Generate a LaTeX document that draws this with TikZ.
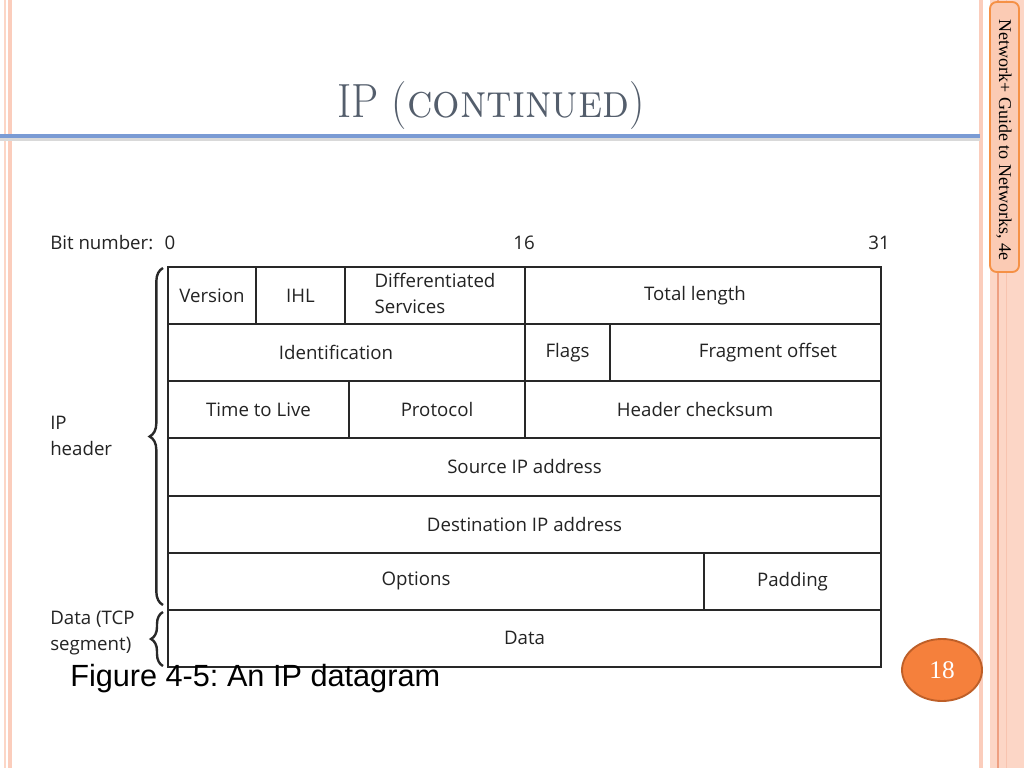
\documentclass[tikz,border=0pt]{standalone}
\usepackage{fontspec}
\newfontfamily\cellfont{Open Sans}
\newfontfamily\capfont{Liberation Sans}
\newfontfamily\serifb{Liberation Serif}
\usetikzlibrary{decorations.pathreplacing,shapes.geometric}
\definecolor{tblc}{RGB}{40,40,40}
\definecolor{txtc}{RGB}{35,35,35}
\definecolor{titlec}{RGB}{84,94,108}
\definecolor{bluel}{RGB}{122,155,212}
\definecolor{salm}{RGB}{251,205,188}
\definecolor{salml}{RGB}{252,214,198}
\definecolor{salmd}{RGB}{238,160,130}
\definecolor{tabo}{RGB}{245,145,70}
\definecolor{ello}{RGB}{245,128,60}
\definecolor{elld}{RGB}{190,95,40}
\frenchspacing
\begin{document}
\begin{tikzpicture}[x=0.75pt,y=-0.75pt,
  cell/.style={draw=tblc, line width=1.5pt, inner sep=0pt, outer sep=0pt, anchor=north west,
    font=\cellfont\fontsize{14}{19}\selectfont, text=txtc, align=center, minimum height=57.14*0.75pt},
  cw/.style={minimum width=#1*0.75pt},
  ctext/.style={font=\cellfont\fontsize{14}{19}\selectfont, text=txtc, inner sep=0pt},
  side/.style={font=\cellfont\fontsize{14}{19}\selectfont, text=txtc, inner sep=0pt, anchor=west, align=left},
  bracest/.style={decorate, decoration={brace, amplitude=10pt}, line width=1.8pt, draw=tblc}]
\useasboundingbox (0,0) rectangle (1024,768);
\fill[white] (0,0) rectangle (1024,768);
% side decorations
\fill[salml] (4,0) rectangle (6,768);
\fill[salm] (8,0) rectangle (12,768);
\fill[salm] (979,0) rectangle (983,768);
\fill[salml] (990,0) rectangle (1024,768);
\draw[salmd, line width=0.8pt] (998,0) -- (998,768);
\draw[salm!80!salmd, line width=0.6pt] (1006,0) -- (1006,768);
% title rule
\draw[black!15, line width=2.5pt] (0,139.5) -- (980,139.5);
\draw[bluel, line width=2.4pt] (0,136) -- (980,136);
% title
\node[anchor=base, text=titlec, inner sep=0pt, xscale=0.9] (title) at (491,117)
  {\fontsize{36}{36}\selectfont IP (\textsc{continued})};
% side tab
\draw[tabo, fill=salm!70!tabo!40!salml, line width=1.4pt, rounded corners=5pt] (990,2) rectangle (1019,272);
\node[rotate=-90, inner sep=0pt, font=\serifb\fontsize{13.5}{14}\selectfont] (tab) at (1004,140) {Network+ Guide to Networks, 4e};
% bit numbers
\node[side, anchor=base west] (bitn) at (50,249) {Bit number:};
\node[ctext, anchor=base] (b0) at (170,249) {0};
\node[ctext, anchor=base] (b16) at (524,249) {16};
\node[ctext, anchor=base] (b31) at (879,249) {31};
% row 1
\node[cell, cw=88] (ver) at (168,267) {Version};
\node[cell, cw=89] (ihl) at (256,267) {IHL};
\node[cell, cw=180] (ds) at (345,267) {\begin{tabular}{@{}l@{}}Differentiated\\Services\end{tabular}};
\node[cell, cw=356] (tot) at (525,267) {};
\node[ctext] (tott) at (695,295.5) {Total length};
% row 2
\node[cell, cw=357] (ident) at (168,324.14) {};
\node[ctext] (identt) at (336,352.7) {Identification};
\node[cell, cw=85] (flags) at (525,324.14) {Flags};
\node[cell, cw=271] (frag) at (610,324.14) {};
\node[ctext] (fragt) at (768,352.7) {Fragment offset};
% row 3
\node[cell, cw=181] (ttl) at (168,381.28) {Time to Live};
\node[cell, cw=176] (proto) at (349,381.28) {Protocol};
\node[cell, cw=356] (chk) at (525,381.28) {};
\node[ctext] (chkt) at (695,409.8) {Header checksum};
% rows 4-5
\node[cell, cw=713] (src) at (168,438.42) {Source IP address};
\node[cell, cw=713] (dst) at (168,495.56) {Destination IP address};
% row 6
\node[cell, cw=536] (opt) at (168,552.7) {};
\node[ctext] (optt) at (416,581.3) {Options};
\node[cell, cw=177] (pad) at (704,552.7) {Padding};
% row 7
\node[cell, cw=713] (data) at (168,609.84) {Data};
% braces
\coordinate (hb) at (163,605);
\coordinate (ht) at (163,268);
\coordinate (db) at (163,666);
\coordinate (dt) at (163,612);
\draw[bracest] (hb) -- (ht);
\draw[bracest, decoration={brace, amplitude=9pt}] (db) -- (dt);
\node[side] (iph) at (50,436) {IP\\header};
\node[side] (dtcp) at (50,633) {Data (TCP\\segment)};
% caption
\node[anchor=base west, inner sep=0pt, font=\capfont\fontsize{23}{23}\selectfont] (cap) at (70,686) {Figure 4-5: An IP datagram};
% page number
\node[ellipse, draw=elld, fill=ello, line width=1.4pt, minimum width=80*0.75pt, minimum height=62*0.75pt, inner sep=0pt,
  text=white, font=\serifb\fontsize{19}{19}\selectfont] (pg) at (942,670) {18};
\end{tikzpicture}
\end{document}
